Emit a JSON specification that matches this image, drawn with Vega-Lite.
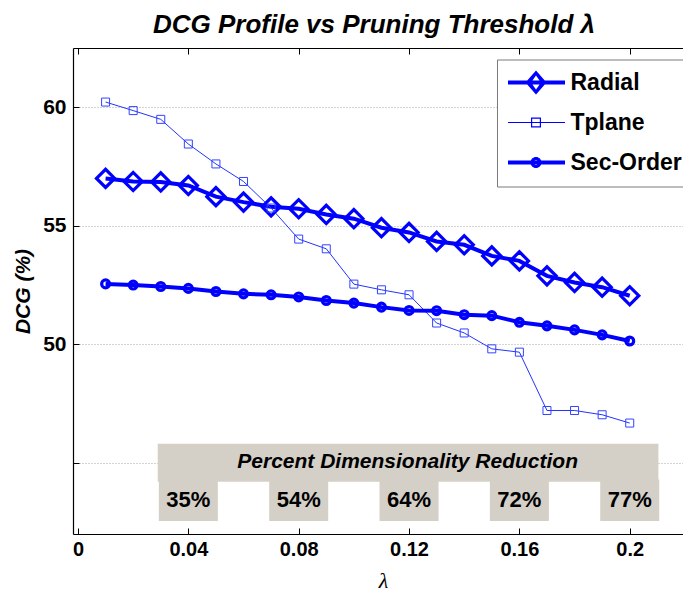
{
  "$schema": "https://vega.github.io/schema/vega-lite/v6.json",
  "autosize": {"type": "none"},
  "padding": {"left": 73, "top": 48, "right": 0, "bottom": 58},
  "width": 610,
  "height": 486,
  "title": {"text": "DCG Profile vs Pruning Threshold λ", "font": "Liberation Sans", "fontSize": 26, "fontStyle": "italic", "fontWeight": "bold", "color": "black", "anchor": "middle", "baseline": "alphabetic", "offset": 15, "dx": -4, "dy": 26},
  "resolve": {"axis": {"x": "independent", "y": "independent"}},
  "datasets": {
    "dcg": [
      {"series": "Radial", "lam": 0.01, "dcg": 57.0},
      {"series": "Radial", "lam": 0.02, "dcg": 56.87},
      {"series": "Radial", "lam": 0.03, "dcg": 56.85},
      {"series": "Radial", "lam": 0.04, "dcg": 56.7},
      {"series": "Radial", "lam": 0.05, "dcg": 56.23},
      {"series": "Radial", "lam": 0.06, "dcg": 56.0},
      {"series": "Radial", "lam": 0.07, "dcg": 55.8},
      {"series": "Radial", "lam": 0.08, "dcg": 55.72},
      {"series": "Radial", "lam": 0.09, "dcg": 55.48},
      {"series": "Radial", "lam": 0.10, "dcg": 55.3},
      {"series": "Radial", "lam": 0.11, "dcg": 54.92},
      {"series": "Radial", "lam": 0.12, "dcg": 54.72},
      {"series": "Radial", "lam": 0.13, "dcg": 54.34},
      {"series": "Radial", "lam": 0.14, "dcg": 54.2},
      {"series": "Radial", "lam": 0.15, "dcg": 53.73},
      {"series": "Radial", "lam": 0.16, "dcg": 53.52},
      {"series": "Radial", "lam": 0.17, "dcg": 52.89},
      {"series": "Radial", "lam": 0.18, "dcg": 52.61},
      {"series": "Radial", "lam": 0.19, "dcg": 52.41},
      {"series": "Radial", "lam": 0.20, "dcg": 52.05},
      {"series": "Tplane", "lam": 0.01, "dcg": 60.22},
      {"series": "Tplane", "lam": 0.02, "dcg": 59.86},
      {"series": "Tplane", "lam": 0.03, "dcg": 59.49},
      {"series": "Tplane", "lam": 0.04, "dcg": 58.45},
      {"series": "Tplane", "lam": 0.05, "dcg": 57.61},
      {"series": "Tplane", "lam": 0.06, "dcg": 56.87},
      {"series": "Tplane", "lam": 0.07, "dcg": 55.75},
      {"series": "Tplane", "lam": 0.08, "dcg": 54.44},
      {"series": "Tplane", "lam": 0.09, "dcg": 54.03},
      {"series": "Tplane", "lam": 0.10, "dcg": 52.54},
      {"series": "Tplane", "lam": 0.11, "dcg": 52.3},
      {"series": "Tplane", "lam": 0.12, "dcg": 52.09},
      {"series": "Tplane", "lam": 0.13, "dcg": 50.9},
      {"series": "Tplane", "lam": 0.14, "dcg": 50.48},
      {"series": "Tplane", "lam": 0.15, "dcg": 49.81},
      {"series": "Tplane", "lam": 0.16, "dcg": 49.67},
      {"series": "Tplane", "lam": 0.17, "dcg": 47.21},
      {"series": "Tplane", "lam": 0.18, "dcg": 47.21},
      {"series": "Tplane", "lam": 0.19, "dcg": 47.03},
      {"series": "Tplane", "lam": 0.20, "dcg": 46.68},
      {"series": "Sec-Order", "lam": 0.01, "dcg": 52.55},
      {"series": "Sec-Order", "lam": 0.02, "dcg": 52.5},
      {"series": "Sec-Order", "lam": 0.03, "dcg": 52.44},
      {"series": "Sec-Order", "lam": 0.04, "dcg": 52.36},
      {"series": "Sec-Order", "lam": 0.05, "dcg": 52.23},
      {"series": "Sec-Order", "lam": 0.06, "dcg": 52.13},
      {"series": "Sec-Order", "lam": 0.07, "dcg": 52.09},
      {"series": "Sec-Order", "lam": 0.08, "dcg": 52.0},
      {"series": "Sec-Order", "lam": 0.09, "dcg": 51.85},
      {"series": "Sec-Order", "lam": 0.10, "dcg": 51.74},
      {"series": "Sec-Order", "lam": 0.11, "dcg": 51.57},
      {"series": "Sec-Order", "lam": 0.12, "dcg": 51.43},
      {"series": "Sec-Order", "lam": 0.13, "dcg": 51.42},
      {"series": "Sec-Order", "lam": 0.14, "dcg": 51.25},
      {"series": "Sec-Order", "lam": 0.15, "dcg": 51.21},
      {"series": "Sec-Order", "lam": 0.16, "dcg": 50.93},
      {"series": "Sec-Order", "lam": 0.17, "dcg": 50.78},
      {"series": "Sec-Order", "lam": 0.18, "dcg": 50.61},
      {"series": "Sec-Order", "lam": 0.19, "dcg": 50.4},
      {"series": "Sec-Order", "lam": 0.20, "dcg": 50.14}
    ],
    "reduction": [
      {"lam": 0.04, "pct": "35%"},
      {"lam": 0.08, "pct": "54%"},
      {"lam": 0.12, "pct": "64%"},
      {"lam": 0.16, "pct": "72%"},
      {"lam": 0.2, "pct": "77%"}
    ],
    "banner": [
      {"label": "Percent Dimensionality Reduction", "start": 0.0289, "end": 0.2104, "mid": 0.1195}
    ]
  },
  "layer": [
    {
      "data": {"name": "dcg"},
      "transform": [{"filter": "datum.series === 'Radial'"}],
      "mark": {"type": "line", "color": "#0000ff", "strokeWidth": 4},
      "encoding": {
        "x": {"field": "lam", "type": "quantitative", "scale": {"domain": [0, 0.2175], "nice": false, "zero": false},
          "axis": {"orient": "bottom", "values": [0, 0.04, 0.08, 0.12, 0.16, 0.2], "format": "~g", "title": "λ", "grid": false,
            "labelFont": "Liberation Sans", "labelFontSize": 20, "labelFontWeight": "bold", "labelColor": "black", "labelPadding": 11,
            "tickSize": -6, "tickColor": "black", "domainColor": "black", "domainWidth": 1.2,
            "titleFont": "Liberation Serif", "titleFontSize": 22, "titleFontStyle": "italic", "titleFontWeight": "normal", "titleColor": "black",
            "titleX": 310, "titleY": 46, "titleBaseline": "middle"}},
        "y": {"field": "dcg", "type": "quantitative", "scale": {"domain": [42, 62.5], "nice": false, "zero": false},
          "axis": {"orient": "left", "values": [45, 50, 55, 60], "labelExpr": "datum.value == 45 ? '' : datum.label", "title": "DCG (%)",
            "grid": true, "gridDash": [1, 2], "gridColor": "#a8a8a8", "gridWidth": 1,
            "labelFont": "Liberation Sans", "labelFontSize": 21, "labelFontWeight": "bold", "labelColor": "black", "labelPadding": 13,
            "tickSize": -6, "tickColor": "black", "domainColor": "black", "domainWidth": 1.2,
            "titleFont": "Liberation Sans", "titleFontSize": 21, "titleFontStyle": "italic", "titleFontWeight": "bold", "titleColor": "black",
            "titleX": -50, "titleY": 243, "titleAngle": 270, "titleBaseline": "middle", "titleAlign": "center"}}
      }
    },
    {
      "data": {"name": "banner"},
      "mark": {"type": "rect", "color": "#d4d0c8"},
      "encoding": {
        "x": {"field": "start", "type": "quantitative", "axis": null},
        "x2": {"field": "end"},
        "y": {"datum": 44.2, "type": "quantitative", "axis": null},
        "y2": {"datum": 45.81}
      }
    },
    {
      "data": {"name": "reduction"},
      "mark": {"type": "bar", "color": "#d4d0c8", "width": 59},
      "encoding": {
        "x": {"field": "lam", "type": "quantitative", "axis": {"orient": "top", "values": [0, 0.04, 0.08, 0.12, 0.16, 0.2], "labels": false, "title": null, "grid": false, "tickSize": -6, "tickColor": "black", "domainColor": "black", "domainWidth": 1.2}},
        "y": {"datum": 42.55, "type": "quantitative", "axis": null},
        "y2": {"datum": 44.3}
      }
    },
    {
      "data": {"name": "banner"},
      "mark": {"type": "text", "font": "Liberation Sans", "fontSize": 21, "fontStyle": "italic", "fontWeight": "bold", "color": "black", "align": "center", "baseline": "middle"},
      "encoding": {
        "x": {"field": "mid", "type": "quantitative", "axis": null},
        "y": {"datum": 45.02, "type": "quantitative", "axis": null},
        "text": {"field": "label"}
      }
    },
    {
      "data": {"name": "reduction"},
      "mark": {"type": "text", "font": "Liberation Sans", "fontSize": 22, "fontWeight": "bold", "color": "black", "align": "center", "baseline": "middle"},
      "encoding": {
        "x": {"field": "lam", "type": "quantitative", "axis": null},
        "y": {"datum": 43.43, "type": "quantitative", "axis": null},
        "text": {"field": "pct"}
      }
    },
    {
      "data": {"name": "dcg"},
      "transform": [{"filter": "datum.series === 'Tplane'"}],
      "mark": {"type": "line", "color": "#2233ff", "strokeWidth": 1},
      "encoding": {
        "x": {"field": "lam", "type": "quantitative", "axis": null},
        "y": {"field": "dcg", "type": "quantitative", "axis": null}
      }
    },
    {
      "data": {"name": "dcg"},
      "transform": [{"filter": "datum.series === 'Sec-Order'"}],
      "mark": {"type": "line", "color": "#0000ff", "strokeWidth": 4},
      "encoding": {
        "x": {"field": "lam", "type": "quantitative", "axis": null},
        "y": {"field": "dcg", "type": "quantitative", "axis": null}
      }
    },
    {
      "data": {"name": "dcg"},
      "mark": {"type": "point", "filled": false, "opacity": 1},
      "encoding": {
        "x": {"field": "lam", "type": "quantitative", "axis": null},
        "y": {"field": "dcg", "type": "quantitative", "axis": null},
        "shape": {"condition": [{"test": "datum.series === 'Radial'", "value": "diamond"}, {"test": "datum.series === 'Tplane'", "value": "square"}], "value": "circle"},
        "size": {"condition": [{"test": "datum.series === 'Radial'", "value": 330}, {"test": "datum.series === 'Tplane'", "value": 64}], "value": 62},
        "strokeWidth": {"condition": {"test": "datum.series === 'Tplane'", "value": 1}, "value": 3.2},
        "color": {"condition": {"test": "datum.series === 'Tplane'", "value": "#3344ff"}, "value": "#0000ff"}
      }
    },
    {
      "data": {"name": "dcg"},
      "transform": [{"filter": "false"}],
      "mark": {"type": "point", "filled": true, "opacity": 1, "color": "#0000ff"},
      "encoding": {
        "x": {"field": "lam", "type": "quantitative", "axis": null},
        "y": {"field": "dcg", "type": "quantitative", "axis": null},
        "shape": {"field": "series", "type": "nominal",
          "scale": {"domain": ["Radial", "Tplane", "Sec-Order"], "range": [
            "M-12,-2L45,-2L45,2L-12,2ZM16,-12L26.5,0L16,12L5.5,0ZM16,-7L11,0L16,7L21,0Z",
            "M-12,-0.5L45,-0.5L45,0.5L-12,0.5ZM11,-5L21,-5L21,5L11,5ZM12.2,-3.8L12.2,3.8L19.8,3.8L19.8,-3.8Z",
            "M-12,-2L45,-2L45,2L-12,2ZM21.5,0A5.5,5.5 0 1,1 10.5,0A5.5,5.5 0 1,1 21.5,0ZM18.5,0A2.5,2.5 0 1,0 13.5,0A2.5,2.5 0 1,0 18.5,0Z"]},
          "legend": {"title": null, "orient": "none", "legendX": 424, "legendY": 11.5,
            "fillColor": "white", "strokeColor": "#7a7a7a", "padding": 11.5, "cornerRadius": 0,
            "labelFont": "Liberation Sans", "labelFontSize": 23, "labelFontWeight": "bold", "labelColor": "black", "labelOffset": 39,
            "rowPadding": 16, "symbolSize": 4, "labelLimit": 300, "symbolStrokeWidth": 0, "symbolFillColor": "#0000ff", "symbolOpacity": 1,
            "encode": {
              "legend": {"update": {"strokeWidth": {"value": 2}}}
            }}}
      }
    }
  ],
  "config": {"view": {"stroke": null}, "font": "Liberation Sans"}
}
